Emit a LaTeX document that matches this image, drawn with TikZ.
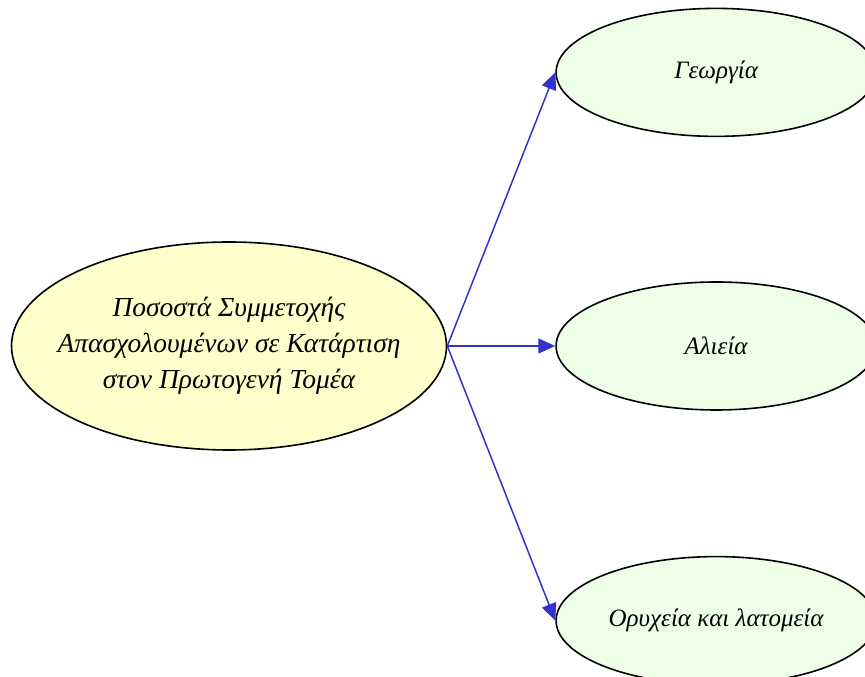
\documentclass[tikz,border=0pt]{standalone}
\usepackage{fontspec}
\setmainfont{Liberation Serif}
\usepackage{xcolor}
\usepackage{tikz}
\usetikzlibrary{arrows.meta,positioning,shapes.geometric}
\definecolor{hubfill}{HTML}{FFFFCC}
\definecolor{leaffill}{HTML}{EEFFE8}
\definecolor{flowblue}{HTML}{3333CC}

\begin{document}
\begin{tikzpicture}[x=1pt,y=1pt,
  hub/.style={ellipse,draw=black,line width=1.6pt,fill=hubfill,inner xsep=-30pt,inner ysep=0pt,
    minimum width=435pt,minimum height=208pt,align=center,
    font=\fontsize{27.5}{36}\selectfont\itshape},
  leaf/.style={ellipse,draw=black,line width=1.6pt,fill=leaffill,inner sep=0pt,
    minimum width=320pt,minimum height=128pt,align=center,
    font=\fontsize{25}{36}\selectfont\itshape},
  flow/.style={-{Triangle[length=17pt,width=15pt]},line width=1.5pt,draw=flowblue,fill=flowblue}]
\useasboundingbox (0,0) rectangle (865,677);
\node[hub] (main) at (229,331) {Ποσοστά Συμμετοχής\\Απασχολουμένων σε Κατάρτιση\\στον Πρωτογενή Τομέα};
\node[leaf,right=108pt of main] (alieia) {Αλιεία};
\node[leaf,above=144pt of alieia] (georgia) {Γεωργία};
\node[leaf,below=145pt of alieia] (oryxeia) {Ορυχεία και λατομεία};
\draw[flow] (main.east)--(georgia.west);
\draw[flow] (main.east)--(alieia.west);
\draw[flow] (main.east)--(oryxeia.west);
\end{tikzpicture}
\end{document}
